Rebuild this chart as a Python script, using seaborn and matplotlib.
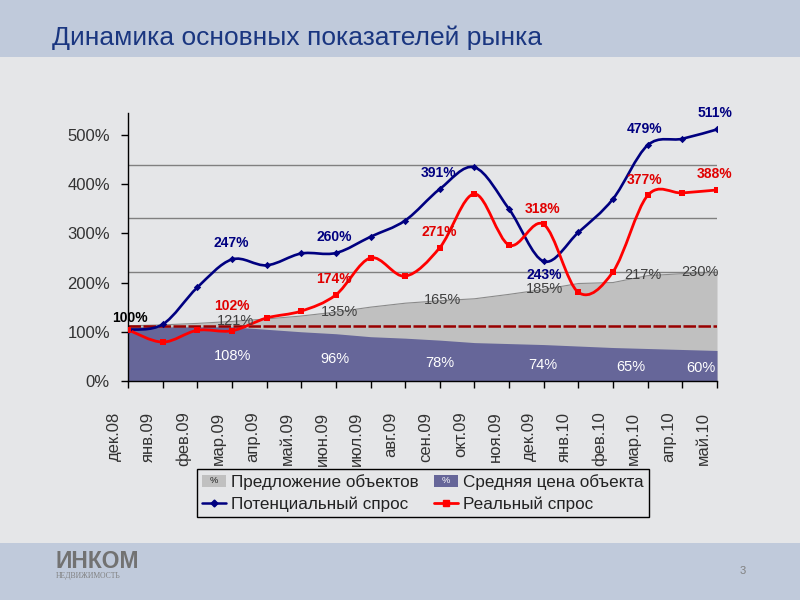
import numpy as np
import matplotlib
matplotlib.use('Agg')
import matplotlib.pyplot as plt
import seaborn as sns
from matplotlib.path import Path
from matplotlib.patches import PathPatch, Patch, Rectangle
from matplotlib.lines import Line2D
from matplotlib.legend_handler import HandlerPatch
from matplotlib.transforms import ScaledTranslation

months = ['дек.08', 'янв.09', 'фев.09', 'мар.09', 'апр.09', 'май.09', 'июн.09',
          'июл.09', 'авг.09', 'сен.09', 'окт.09', 'ноя.09', 'дек.09', 'янв.10',
          'фев.10', 'мар.10', 'апр.10', 'май.10']

# значения в %
supply = [112, 114, 117, 121, 126, 132, 140, 150, 158, 163, 167, 176, 186, 198, 200, 214, 218, 221]
price = [110, 110, 110, 110, 105, 100, 96, 90, 87, 83, 78, 76, 74, 71, 68, 66, 64, 62]
potential = [104, 115, 190, 247, 235, 259, 260, 293, 326, 390, 434, 349, 243, 302, 370, 479, 492, 511]
real = [104, 79, 103, 102, 128, 142, 175, 250, 213, 271, 380, 276, 318, 180, 222, 377, 382, 388]

# подписи: (индекс месяца, текст)
potential_labels = [(3, '247%'), (6, '260%'), (9, '391%'), (12, '243%'), (15, '479%'), (17, '511%')]
real_labels = [(3, '102%'), (6, '174%'), (9, '271%'), (12, '318%'), (15, '377%'), (17, '388%')]
supply_labels = [(3, '121%'), (6, '135%'), (9, '165%'), (12, '185%'), (15, '217%'), (17, '230%')]
price_labels = [(3, '108%'), (6, '96%'), (9, '78%'), (12, '74%'), (15, '65%'), (17, '60%')]
start_label = '100%'

y_ticks = [0, 100, 200, 300, 400, 500]
grid_levels = [221, 331, 439]
base_level = 112

NAVY = '#000080'
RED = '#ff0000'
GRAY = '#c0c0c0'
PURPLE = '#666699'
BG = '#e5e6e8'
BAND = '#c0cadb'
PX = 0.72  # px -> pt

sns.set_theme(style='white')
plt.rcParams['font.family'] = ['Liberation Sans', 'DejaVu Sans']


def smooth_path(xs, ys):
    pts = np.column_stack([xs, ys]).astype(float)
    n = len(pts)
    verts = [pts[0]]
    codes = [Path.MOVETO]
    for i in range(n - 1):
        p0 = pts[max(i - 1, 0)]
        p1 = pts[i]
        p2 = pts[i + 1]
        p3 = pts[min(i + 2, n - 1)]
        verts += [p1 + (p2 - p0) / 6, p2 - (p3 - p1) / 6, p2]
        codes += [Path.CURVE4] * 3
    return Path(verts, codes)


class PctHandler(HandlerPatch):
    def __init__(self, txt_color):
        super().__init__()
        self.txt_color = txt_color

    def create_artists(self, legend, orig_handle, xdescent, ydescent,
                       width, height, fontsize, trans):
        r = Rectangle((-xdescent, -ydescent), width, height,
                      facecolor=orig_handle.get_facecolor(), edgecolor='none',
                      transform=trans)
        t = plt.Text(-xdescent + width / 2, -ydescent + height / 2, '%',
                     ha='center', va='center', fontsize=fontsize * 0.55,
                     color=self.txt_color, transform=trans)
        return [r, t]


fig = plt.figure(figsize=(8, 6), dpi=100, facecolor=BG)
fig.patches.append(Rectangle((0, 1 - 57 / 600), 1, 57 / 600, transform=fig.transFigure,
                             facecolor=BAND, edgecolor='none', zorder=-1))
fig.patches.append(Rectangle((0, 0), 1, 57 / 600, transform=fig.transFigure,
                             facecolor=BAND, edgecolor='none', zorder=-1))

ax = fig.add_axes([0.16, 0.365, 0.73625, 0.4472])
ax.set_facecolor('none')
x = np.arange(len(months))

for g in grid_levels:
    ax.axhline(g, color='#808080', lw=1, zorder=0.5)

ax.fill_between(x, supply, color=GRAY, lw=0, zorder=1)
ax.plot(x, supply, color='#8a8a8a', lw=0.8, zorder=1.1)
ax.fill_between(x, price, color=PURPLE, lw=0, zorder=1.2)
ax.axhline(base_level, color='#990000', lw=1.8, ls=(0, (5, 1)), zorder=2)

ax.add_patch(PathPatch(smooth_path(x, potential), facecolor='none', edgecolor=NAVY,
                       lw=1.9, zorder=3))
ax.add_patch(PathPatch(smooth_path(x, real), facecolor='none', edgecolor=RED,
                       lw=2.0, zorder=3.5))
sns.scatterplot(x=x, y=potential, marker='D', s=14, color=NAVY, edgecolor=NAVY,
                linewidth=0, ax=ax, zorder=4)
sns.scatterplot(x=x, y=real, marker='s', s=18, color=RED, edgecolor=RED,
                linewidth=0, ax=ax, zorder=4.5)

# подписи значений
LAB = 10
pot_dx = [-1, -1.5, -1, 0, -3, -2]
for (i, t), dx in zip(potential_labels, pot_dx):
    dy = -13.5 if t == '243%' else 16
    ax.annotate(t, (i, potential[i]), xytext=(dx * PX, dy * PX), textcoords='offset points',
                ha='center', va='center', fontsize=LAB, fontweight='bold',
                color=NAVY, zorder=6)
real_dx = [0, -1.5, -1, -1, -3, -2]
for (i, t), dx in zip(real_labels, real_dx):
    dy = 25 if t == '102%' else 15.5
    ax.annotate(t, (i, real[i]), xytext=(dx * PX, dy * PX), textcoords='offset points',
                ha='center', va='center', fontsize=LAB, fontweight='bold',
                color='#e00000', zorder=6)
sup_dx = [4, 4, 3, 1, -5, -17]
for (i, t), dx in zip(supply_labels, sup_dx):
    ax.annotate(t, (i, supply[i]), xytext=(dx * PX, 0.5 * PX), textcoords='offset points',
                ha='center', va='center', fontsize=LAB + 0.5, color='#404040', zorder=5)
price_dx = [1, -0.5, -0.5, -0.7, -16.5, -16]
for (i, t), dx in zip(price_labels, price_dx):
    ax.annotate(t, (i, price[i] / 2), xytext=(dx * PX, -2 * PX), textcoords='offset points',
                ha='center', va='center', fontsize=LAB + 0.5, color='white', zorder=5)
ax.annotate(start_label, (0, potential[0]), xytext=(2 * PX, 12 * PX), textcoords='offset points',
            ha='center', va='center', fontsize=LAB, fontweight='bold', color='black',
            zorder=6)

ax.set_xlim(0, len(months) - 1)
ax.set_ylim(0, 545)
ax.set_yticks(y_ticks)
ax.set_yticklabels([f'{v}%' for v in y_ticks])
ax.set_xticks(x)
ax.set_xticklabels(months, rotation=90, va='top', ha='center')
ax.tick_params(axis='y', direction='out', length=5, width=1, color='black', pad=8,
               labelsize=12, labelcolor='#333333', left=True)
ax.tick_params(axis='x', direction='out', length=5, width=1, color='black', pad=17,
               labelsize=12, labelcolor='#333333', bottom=True)
for lab in ax.get_xticklabels():
    lab.set_transform(lab.get_transform() + ScaledTranslation(-14 / 100, 0, fig.dpi_scale_trans))
for s in ['top', 'right']:
    ax.spines[s].set_visible(False)
for s in ['left', 'bottom']:
    ax.spines[s].set_color('black')
    ax.spines[s].set_linewidth(1)
ax.set_xlabel('')
ax.set_ylabel('')

h_supply = Patch(facecolor=GRAY)
h_price = Patch(facecolor=PURPLE)
h_pot = Line2D([], [], color=NAVY, lw=1.8, marker='D', markersize=3.5)
h_real = Line2D([], [], color=RED, lw=2, marker='s', markersize=4)
leg = fig.legend([h_supply, h_pot, h_price, h_real],
                 ['Предложение объектов', 'Потенциальный спрос',
                  'Средняя цена объекта', 'Реальный спрос'],
                 handler_map={h_supply: PctHandler('#222222'), h_price: PctHandler('white')},
                 ncol=2, loc='lower left', bbox_to_anchor=(197 / 800, 83 / 600),
                 fontsize=12.3, frameon=True, fancybox=False,
                 edgecolor='black', borderpad=0.3, labelspacing=0.4,
                 handlelength=1.4, handleheight=0.7, handletextpad=0.3,
                 columnspacing=0.9, borderaxespad=0)
frame = leg.get_frame()
frame.set_facecolor('none')
frame.set_edgecolor('black')
frame.set_alpha(None)
frame.set_linewidth(1)
for t in leg.get_texts():
    t.set_color('#222222')

fig.text(52 / 800, 1 - 45 / 600, 'Динамика основных показателей рынка', fontsize=19,
         color='#1a3680', va='baseline', ha='left')
fig.text(55 / 800, 1 - 568 / 600, 'ИНКОМ', fontsize=16.5, fontweight='heavy',
         color='#727272', va='baseline', ha='left')
fig.text(56 / 800, 1 - 578 / 600, 'НЕДВИЖИМОСТЬ', fontsize=5.5, family='Liberation Serif',
         color='#808080', va='baseline', ha='left')
fig.text(743 / 800, 1 - 571 / 600, '3', fontsize=8, color='#808080', va='center', ha='center')

fig.savefig('out.png', dpi=100, facecolor=BG)
